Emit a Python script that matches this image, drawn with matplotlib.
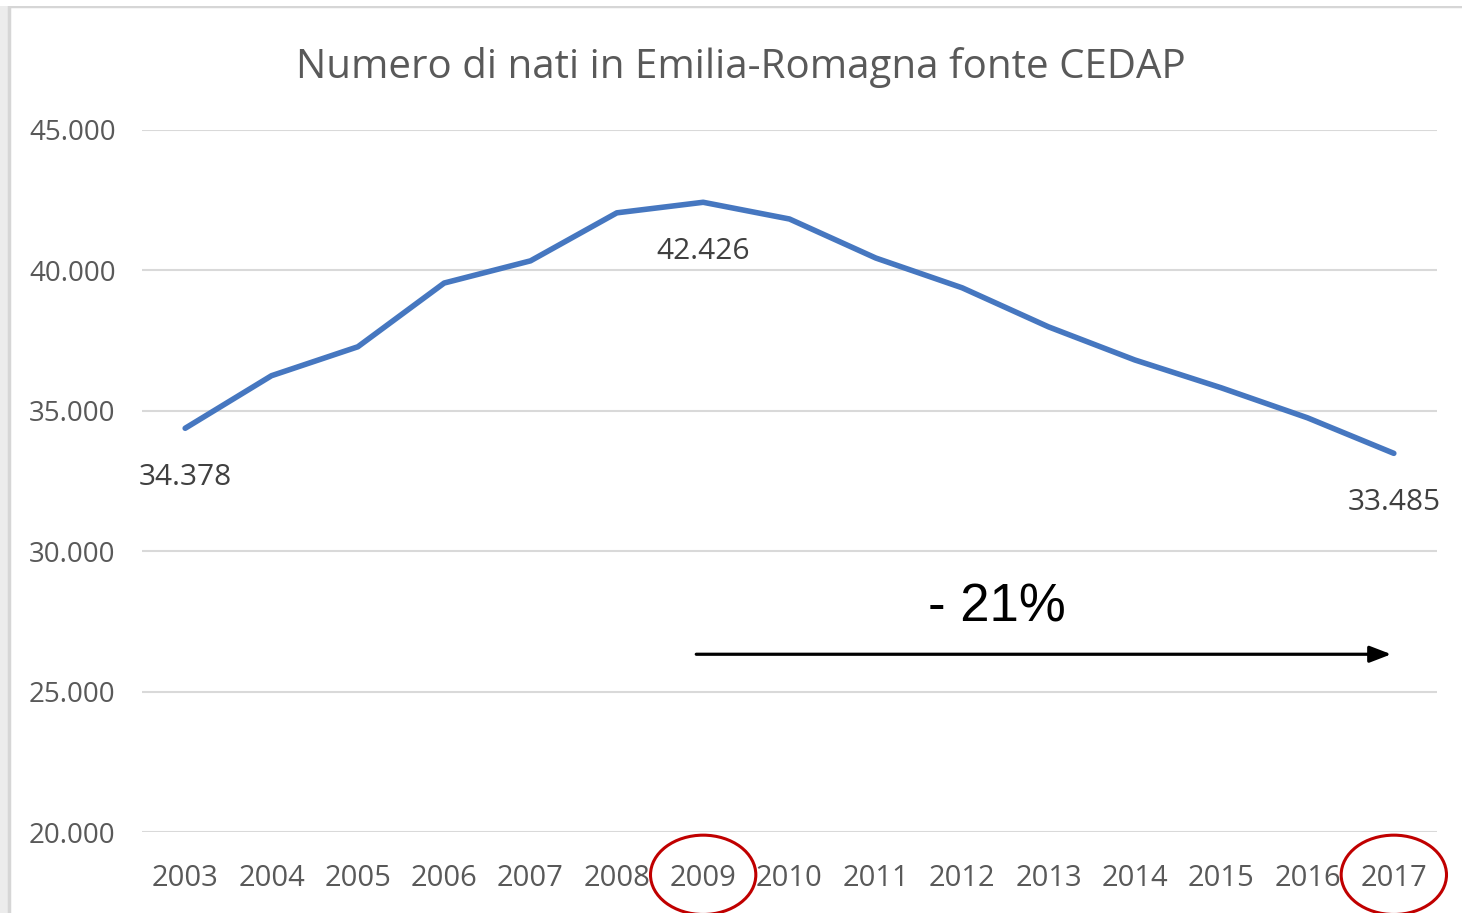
import matplotlib
matplotlib.use("Agg")
import matplotlib.pyplot as plt
from matplotlib.patches import Ellipse, Rectangle
from matplotlib.transforms import blended_transform_factory
from matplotlib.ticker import FuncFormatter

years = ["2003", "2004", "2005", "2006", "2007", "2008", "2009", "2010",
         "2011", "2012", "2013", "2014", "2015", "2016", "2017"]
births = [34378, 36250, 37280, 39550, 40340, 42050, 42426, 41830,
          40440, 39380, 37990, 36810, 35820, 34750, 33485]
labeled = {"2003": "34.378", "2009": "42.426", "2017": "33.485"}
title = "Numero di nati in Emilia-Romagna fonte CEDAP"
change_text = "- 21%"
circled = ["2009", "2017"]

W, H = 1462, 913
fig = plt.figure(figsize=(W / 100, H / 100), dpi=100)
fig.patch.set_facecolor("white")

# outer frame (screenshot border)
fig.add_artist(Rectangle((0, 0), 9 / W, 1, transform=fig.transFigure,
                         facecolor="#ececec", edgecolor="none", zorder=0))
fig.add_artist(Rectangle((9 / W, -0.05), 1.0, (H - 6) / H + 0.05, transform=fig.transFigure,
                         facecolor="none", edgecolor="#d6d6d6", lw=2.5, zorder=0))
fig.add_artist(Rectangle((0, (H - 6) / H), 1, 6 / H, transform=fig.transFigure,
                         facecolor="white", edgecolor="none", zorder=0))

ax = fig.add_axes([142 / W, 81 / H, (1437 - 142) / W, (832 - 130) / H])
ax.set_facecolor("none")
x = list(range(len(years)))
ax.plot(x, births, color="#4677C0", lw=4.0, solid_capstyle="round", zorder=3)

ax.set_xlim(-0.5, len(years) - 0.5)
ax.set_ylim(20000, 45000)
ax.set_yticks([20000, 25000, 30000, 35000, 40000, 45000])
ax.yaxis.set_major_formatter(FuncFormatter(lambda v, p: f"{int(v):,}".replace(",", ".")))
ax.set_xticks(x)
ax.set_xticklabels(years)
ax.grid(axis="y", color="#d9d9d9", lw=1.5)
ax.set_axisbelow(True)
for s in ax.spines.values():
    s.set_visible(False)
ax.tick_params(axis="x", length=0, labelsize=21, labelcolor="#595959", pad=23)
ax.tick_params(axis="y", length=0, labelsize=20, labelcolor="#595959", pad=19)
for lab in ax.get_xticklabels() + ax.get_yticklabels():
    lab.set_family("Open Sans")

# data labels
for i, y in enumerate(years):
    if y in labeled:
        ax.annotate(labeled[y], (i, births[i]), xytext=(0, -35.5), textcoords="offset points",
                    ha="center", va="center", fontsize=21.5, color="#404040", family="Open Sans")

fig.text(0.5 * (295 + 1187) / W, 1 - 67 / H, title, ha="center", va="center",
         fontsize=29, color="#595959", family="Open Sans")

# arrow annotation
i0 = years.index("2009")
i1 = years.index("2017")
ax.annotate("", xy=(i1 - 0.03, 26330), xytext=(i0 - 0.08, 26330),
            arrowprops=dict(arrowstyle="-|>,head_length=1.3,head_width=0.5", color="black", lw=2.3,
                            shrinkA=0, shrinkB=0), zorder=5)
ax.text((i0 + i1) / 2 - 0.6, 27980, change_text, ha="center", va="center",
        fontsize=38, color="black", family="Liberation Sans")

# red ellipses around tick labels
tr = blended_transform_factory(ax.transData, ax.transAxes)
for y in circled:
    i = years.index(y)
    ax.add_patch(Ellipse((i, -0.061), 1.22, 0.113, transform=tr, fill=False,
                         edgecolor="#c00000", lw=2.2, clip_on=False, zorder=6))

fig.savefig("out.png", dpi=100, facecolor=fig.get_facecolor())
